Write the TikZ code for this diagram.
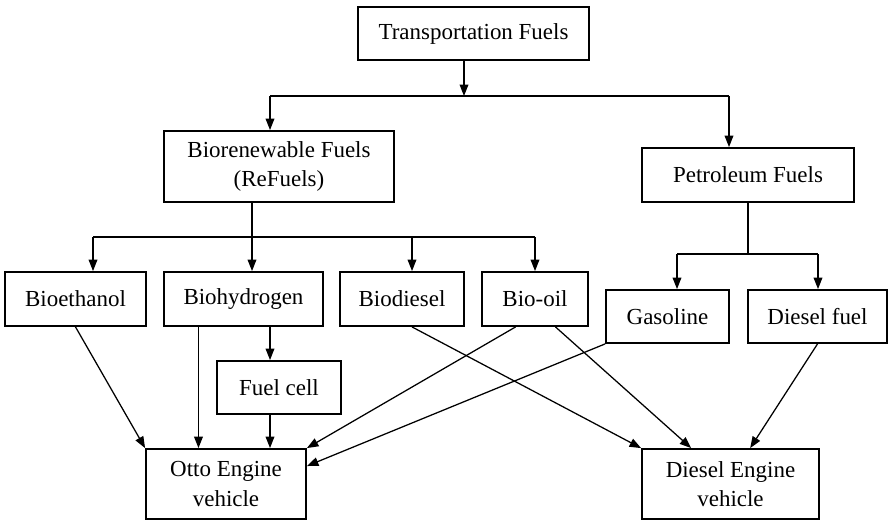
\documentclass[tikz,border=0pt]{standalone}
\usepackage{fontspec}
\setmainfont{Liberation Serif}
\usetikzlibrary{arrows.meta,calc,positioning}

\begin{document}
\begin{tikzpicture}[x=0.0153cm,y=-0.0153cm,>={Triangle[length=5pt,width=3.8pt]},line width=0.55pt]
  \tikzstyle{box}=[draw,line width=0.8pt,align=center,inner sep=1pt,font=\fontsize{10}{12.8}\selectfont]
  \useasboundingbox (0,0) rectangle (888,520);

  % top levels
  \node[box,minimum width=231*0.0153cm,minimum height=53*0.0153cm] (tf) at (473.5,33.5) {Transportation Fuels};
  \node[box,minimum width=230*0.0153cm,minimum height=71*0.0153cm] (bio) at (279,166.5) {Biorenewable Fuels\\(ReFuels)};
  \node[box,minimum width=212*0.0153cm,minimum height=54*0.0153cm] (pet) at (748,175) {Petroleum Fuels};

  % fuels
  \node[box,minimum width=141*0.0153cm,minimum height=54*0.0153cm] (eth) at (75.5,299) {Bioethanol};
  \node[box,minimum width=159*0.0153cm,minimum height=54*0.0153cm] (hyd) at (243.5,299) {Biohydrogen};
  \node[box,minimum width=124*0.0153cm,minimum height=54*0.0153cm] (dsl) at (402,299) {Biodiesel};
  \node[box,minimum width=106*0.0153cm,minimum height=54*0.0153cm] (oil) at (535,299) {Bio-oil};
  \node[box,minimum width=123*0.0153cm,minimum height=53*0.0153cm] (gas) at (667.5,316.5) {Gasoline};
  \node[box,minimum width=139*0.0153cm,minimum height=53*0.0153cm] (dfu) at (817.5,316.5) {Diesel fuel};
  \node[box,minimum width=124*0.0153cm,minimum height=53*0.0153cm] (fc) at (279,387.5) {Fuel cell};

  % vehicles
  \node[box,minimum width=160*0.0153cm,minimum height=70*0.0153cm] (otto) at (226,484) {Otto Engine\\vehicle};
  \node[box,minimum width=177*0.0153cm,minimum height=70*0.0153cm] (die) at (730.5,484) {Diesel Engine\\vehicle};

  % tree
  \coordinate (j) at (464,96);
  \coordinate (bj) at (270,96);
  \coordinate (pj) at (729,96);
  \draw[->] (tf.south -| j) -- (j);
  \draw (bj) -- (pj);
  \draw[->] (bj) -- (bj |- bio.north);
  \draw[->] (pj) -- (pj |- pet.north);

  \coordinate (bb) at (252,237);
  \draw (bio.south -| bb) -- (bb);
  \draw (93,237) -- (535,237);
  \foreach \n/\x in {eth/93,hyd/252,dsl/412,oil/535}{
    \coordinate (b\n) at (\x,237);
    \draw[->] (b\n) -- (b\n |- \n.north);
  }

  \coordinate (pb) at (748,254);
  \draw (pet.south -| pb) -- (pb);
  \coordinate (pg) at (677,254);
  \coordinate (pd) at (818,254);
  \draw (pg) -- (pd);
  \draw[->] (pg) -- (pg |- gas.north);
  \draw[->] (pd) -- (pd |- dfu.north);

  % to the engines
  \coordinate (hx) at ($(hyd.south west)!0.22!(hyd.south east)$);
  \coordinate (fx) at (270,0);
  \draw[->] (eth.south) -- (otto.north west);
  \draw[->] (hx) -- (hx |- otto.north);
  \draw[->] (hyd.south -| fx) -- (fc.north -| fx);
  \draw[->] (fc.south -| fx) -- (otto.north -| fx);
  \draw[->] ($(oil.south west)!0.32!(oil.south east)$) -- (otto.north east);
  \draw[->] (gas.south west) -- ($(otto.north east)!0.25!(otto.south east)$);
  \draw[->] ($(dsl.south)+(10,0)$) -- (die.north west);
  \draw[->] ($(oil.south west)!0.69!(oil.south east)$) -- ($(die.north west)!0.28!(die.north east)$);
  \draw[->] (dfu.south) -- ($(die.north west)!0.61!(die.north east)$);
\end{tikzpicture}
\end{document}
